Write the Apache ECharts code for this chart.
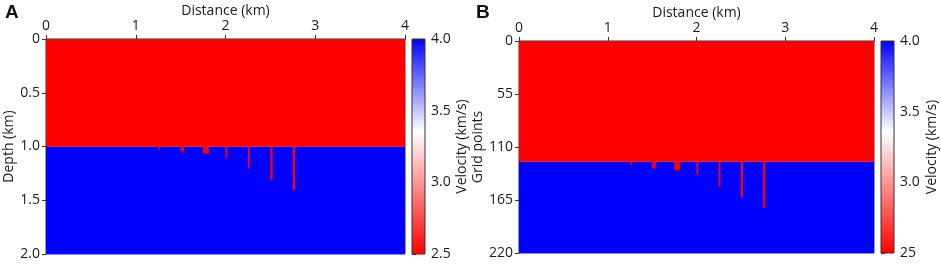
<!DOCTYPE html>
<html>
<head>
<meta charset="utf-8">
<script src="https://cdn.jsdelivr.net/npm/echarts@6/dist/echarts.min.js"></script>
<style>
  html, body { margin: 0; padding: 0; background: #fff; }
  #chart { width: 941px; height: 265px; }
</style>
</head>
<body>
<div id="chart"></div>
<script>
// two-layer velocity model, red fingers hanging into the blue layer
const layerVelocity = [2.5, 4.0];
const layerTopKm = [0, 1.0];
const layerBottomKm = [1.0, 2.0];
const layerTopGrid = [0, 125];
const layerBottomGrid = [125, 220];

const fingerStart = [1.25, 1.5, 1.75, 2.0, 2.25, 2.5, 2.75];
const fingerWidth = [0.02, 0.04, 0.065, 0.02, 0.02, 0.025, 0.025];
const fingerDepthKm = [1.025, 1.045, 1.065, 1.11, 1.205, 1.31, 1.405];
const fingerDepthGrid = [128.5, 132, 134, 139, 151, 162, 173];

const colorbarRange = [2.5, 4.0];
const colorbarLabelsB = { '2.5': '25', '3': '3.0', '3.5': '3.5', '4': '4.0' };

const FONT = 'Open Sans';
const TXT = '#1a1a1a';

function buildRects(tops, bottoms, fingerDepths) {
  const rows = [];
  for (let i = 0; i < layerVelocity.length; i++) {
    rows.push([0, 4, tops[i], bottoms[i], layerVelocity[i]]);
  }
  for (let i = 0; i < fingerStart.length; i++) {
    rows.push([fingerStart[i], fingerStart[i] + fingerWidth[i], tops[1], fingerDepths[i], layerVelocity[0]]);
  }
  return rows;
}

function renderRect(params, api) {
  const p0 = api.coord([api.value(0), api.value(2)]);
  const p1 = api.coord([api.value(1), api.value(3)]);
  return {
    type: 'rect',
    shape: {
      x: Math.min(p0[0], p1[0]),
      y: Math.min(p0[1], p1[1]),
      width: Math.abs(p1[0] - p0[0]),
      height: Math.abs(p1[1] - p0[1])
    },
    style: { fill: api.visual('color') }
  };
}

function renderBar(params, api) {
  const p0 = api.coord([0, api.value(0)]);
  const p1 = api.coord([1, api.value(1)]);
  return {
    type: 'rect',
    shape: { x: p0[0], y: p1[1], width: p1[0] - p0[0], height: p0[1] - p1[1] },
    style: {
      fill: {
        type: 'linear', x: 0, y: 1, x2: 0, y2: 0,
        colorStops: [
          { offset: 0, color: '#ff0000' },
          { offset: 0.57, color: '#ffffff' },
          { offset: 1, color: '#0000ff' }
        ]
      },
      stroke: '#333',
      lineWidth: 1
    }
  };
}

const axisText = { color: TXT, fontFamily: FONT, fontSize: 14 };
const axisLine = { show: true, lineStyle: { color: '#333', width: 1 } };

function distanceAxis(gridIndex) {
  return {
    type: 'value', gridIndex, position: 'top', min: 0, max: 4, interval: 1,
    name: 'Distance (km)', nameLocation: 'middle', nameGap: 21, nameMoveOverlap: false,
    nameTextStyle: axisText,
    axisLine, axisTick: { show: true, length: 4, lineStyle: { color: '#333' } },
    axisLabel: Object.assign({ margin: 6 }, axisText),
    splitLine: { show: false }
  };
}

function barXAxis(gridIndex) {
  return { type: 'value', gridIndex, min: 0, max: 1, show: false };
}

function barYAxis(gridIndex, formatter, gap) {
  return {
    type: 'value', gridIndex, position: 'right', min: colorbarRange[0], max: colorbarRange[1], interval: 0.5,
    name: 'Velocity (km/s)', nameLocation: 'middle', nameRotate: 90, nameGap: gap,
    nameTextStyle: axisText,
    axisLine: { show: false }, axisTick: { show: true, length: 4, lineStyle: { color: '#333' } },
    axisLabel: Object.assign({ margin: 6, formatter }, axisText),
    splitLine: { show: false }
  };
}

const frame = { show: true, borderColor: '#333', borderWidth: 1, backgroundColor: 'transparent' };
const fixed = { outerBoundsMode: 'none', containLabel: false };
const panelLabel = { fontFamily: 'Liberation Sans', fontWeight: 'bold', fontSize: 19, color: '#111' };

const option = {
  animation: false,
  title: [
    { text: 'A', left: 5, top: 3, padding: 0, textStyle: panelLabel },
    { text: 'B', left: 476, top: 3, padding: 0, textStyle: panelLabel }
  ],
  grid: [
    Object.assign({ left: 46, top: 39, width: 359, height: 215 }, frame, fixed),
    Object.assign({ left: 412, top: 39, width: 13, height: 215 }, fixed),
    Object.assign({ left: 519, top: 41, width: 355, height: 212 }, frame, fixed),
    Object.assign({ left: 881, top: 41, width: 13, height: 212 }, fixed)
  ],
  xAxis: [distanceAxis(0), barXAxis(1), distanceAxis(2), barXAxis(3)],
  yAxis: [
    {
      type: 'value', gridIndex: 0, inverse: true, min: 0, max: 2, interval: 0.5,
      name: 'Depth (km)', nameLocation: 'middle', nameRotate: 90, nameGap: 30,
      nameTextStyle: axisText,
      axisLine, axisTick: { show: true, length: 4, lineStyle: { color: '#333' } },
      axisLabel: Object.assign({ margin: 6, formatter: v => (v === 0 ? '0' : v.toFixed(1)) }, axisText),
      splitLine: { show: false }
    },
    barYAxis(1, v => v.toFixed(1), 30),
    {
      type: 'value', gridIndex: 2, inverse: true, min: 0, max: 220, interval: 55,
      name: 'Grid points', nameLocation: 'middle', nameRotate: 90, nameGap: 30,
      nameTextStyle: axisText,
      axisLine, axisTick: { show: true, length: 4, lineStyle: { color: '#333' } },
      axisLabel: Object.assign({ margin: 6 }, axisText),
      splitLine: { show: false }
    },
    barYAxis(3, v => colorbarLabelsB[String(v)] || String(v), 31)
  ],
  visualMap: {
    show: false, type: 'continuous', seriesIndex: [0, 2], dimension: 4,
    min: colorbarRange[0], max: colorbarRange[1],
    inRange: { color: ['#ff0000', '#ffffff', '#0000ff'] }
  },
  series: [
    { type: 'custom', xAxisIndex: 0, yAxisIndex: 0, renderItem: renderRect, data: buildRects(layerTopKm, layerBottomKm, fingerDepthKm), clip: true },
    { type: 'custom', xAxisIndex: 1, yAxisIndex: 1, renderItem: renderBar, data: [colorbarRange] },
    { type: 'custom', xAxisIndex: 2, yAxisIndex: 2, renderItem: renderRect, data: buildRects(layerTopGrid, layerBottomGrid, fingerDepthGrid), clip: true },
    { type: 'custom', xAxisIndex: 3, yAxisIndex: 3, renderItem: renderBar, data: [colorbarRange] }
  ]
};

const chart = echarts.init(document.getElementById('chart'));
chart.setOption(option);
</script>
</body>
</html>
